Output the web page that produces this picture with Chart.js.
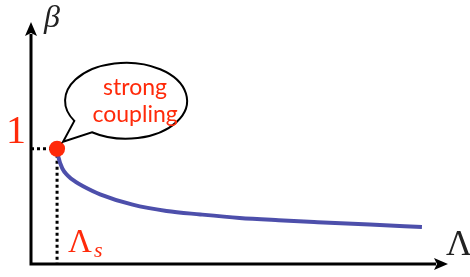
<!DOCTYPE html>
<html>
<head>
<meta charset="utf-8">
<script src="https://cdn.jsdelivr.net/npm/chart.js@4/dist/chart.umd.min.js"></script>
<style>
  html, body { margin: 0; padding: 0; background: #fff; }
  canvas { display: block; }
</style>
</head>
<body>
<canvas id="myChart" width="470" height="277"></canvas>
<script>
// curve beta(Lambda)
var lambdaVals = [1, 1.05, 1.2, 1.4, 1.7, 2, 2.65, 3.9, 5.2, 6.5, 8, 9.5, 11, 13, 15];
var betaVals = [1, 0.93, 0.83, 0.77, 0.715, 0.675, 0.605, 0.515, 0.46, 0.43, 0.4, 0.38, 0.363, 0.342, 0.322];
// the strong coupling point
var lambdaS = 1;
var betaS = 1;
// axis ranges
var xRange = [0, 16];
var yRange = [0, 2.1];
// texts
var bubbleLines = ['strong', 'coupling'];
var yAxisLabel = 'β';
var xAxisLabel = 'Λ';
var betaSLabel = '1';

var RED = '#ff2a0a';
var BLUE = '#4d4fab';

function arrowHead(ctx, tipX, tipY, dir) {
  ctx.beginPath();
  if (dir === 'up') {
    ctx.moveTo(tipX, tipY);
    ctx.lineTo(tipX - 6, tipY + 14);
    ctx.lineTo(tipX, tipY + 11);
    ctx.lineTo(tipX + 6, tipY + 14);
  } else {
    ctx.moveTo(tipX, tipY);
    ctx.lineTo(tipX - 14, tipY - 6);
    ctx.lineTo(tipX - 11, tipY);
    ctx.lineTo(tipX - 14, tipY + 6);
  }
  ctx.closePath();
  ctx.fill();
}

var decorations = {
  id: 'decorations',
  beforeDatasetsDraw: function (chart) {
    var ctx = chart.ctx;
    var xs = chart.scales.x, ys = chart.scales.y;
    var x0 = xs.getPixelForValue(xRange[0]);
    var x1 = xs.getPixelForValue(xRange[1]);
    var y0 = ys.getPixelForValue(yRange[0]);
    var y1 = ys.getPixelForValue(yRange[1]);
    var px = xs.getPixelForValue(lambdaS);
    var py = ys.getPixelForValue(betaS);
    ctx.save();
    // dotted guides
    ctx.strokeStyle = '#000';
    ctx.lineWidth = 3;
    ctx.setLineDash([3, 3]);
    ctx.beginPath();
    ctx.moveTo(x0, py);
    ctx.lineTo(px, py);
    ctx.moveTo(px, py);
    ctx.lineTo(px, y0);
    ctx.stroke();
    ctx.setLineDash([]);
    // axes
    ctx.lineWidth = 3;
    ctx.beginPath();
    ctx.moveTo(x0, y0 + 1.5);
    ctx.lineTo(x0, y1 + 12);
    ctx.moveTo(x0 - 1.5, y0);
    ctx.lineTo(x1 - 12, y0);
    ctx.stroke();
    ctx.fillStyle = '#000';
    arrowHead(ctx, x0, y1, 'up');
    arrowHead(ctx, x1, y0, 'right');
    ctx.restore();
  },
  afterDatasetsDraw: function (chart) {
    var ctx = chart.ctx;
    var xs = chart.scales.x, ys = chart.scales.y;
    var x0 = xs.getPixelForValue(xRange[0]);
    var x1 = xs.getPixelForValue(xRange[1]);
    var y0 = ys.getPixelForValue(yRange[0]);
    var px = xs.getPixelForValue(lambdaS);
    var py = ys.getPixelForValue(betaS);
    ctx.save();
    // speech bubble
    var cx = px + 69, cy = py - 48, rx = 61, ry = 38;
    var tA = 148 * Math.PI / 180, tB = 124 * Math.PI / 180;
    ctx.beginPath();
    ctx.moveTo(cx + rx * Math.cos(tA), cy + ry * Math.sin(tA));
    ctx.lineTo(px + 6, py - 7);
    ctx.lineTo(cx + rx * Math.cos(tB), cy + ry * Math.sin(tB));
    ctx.ellipse(cx, cy, rx, ry, 0, tB, tA, true);
    ctx.closePath();
    ctx.fillStyle = '#fff';
    ctx.fill();
    ctx.strokeStyle = '#000';
    ctx.lineWidth = 2;
    ctx.lineJoin = 'miter';
    ctx.stroke();
    ctx.fillStyle = RED;
    ctx.font = '23px Lato';
    ctx.textAlign = 'center';
    ctx.textBaseline = 'alphabetic';
    ctx.fillText(bubbleLines[0], cx + 9, cy - 6);
    ctx.fillText(bubbleLines[1], cx + 9, cy + 21);

    // the "1" on the beta axis
    ctx.font = '40px "Liberation Serif"';
    ctx.textAlign = 'right';
    ctx.fillText(betaSLabel, x0 - 5, py - 6);

    // Lambda_s
    ctx.textAlign = 'left';
    ctx.font = '33px "Liberation Serif"';
    ctx.fillText('Λ', px + 11, y0 - 12);
    var w = ctx.measureText('Λ').width;
    ctx.font = 'italic 22px "Liberation Serif"';
    ctx.fillText('s', px + 13 + w, y0 - 7);

    // axis names
    ctx.fillStyle = '#222';
    ctx.font = 'italic 32px "Liberation Serif"';
    ctx.fillText(yAxisLabel, x0 + 13, 27);
    ctx.font = '36px "Liberation Serif"';
    ctx.fillText(xAxisLabel, x1 - 2, y0 - 9);
    ctx.restore();
  }
};

var ctx = document.getElementById('myChart').getContext('2d');
var curve = lambdaVals.map(function (l, i) { return { x: l, y: betaVals[i] }; });

var myChart = new Chart(ctx, {
  type: 'scatter',
  data: {
    datasets: [
      {
        data: [{ x: lambdaS, y: betaS }],
        pointRadius: 8,
        pointHoverRadius: 8,
        pointBackgroundColor: RED,
        pointBorderWidth: 0,
        showLine: false,
        clip: false
      },
      {
        data: curve,
        showLine: true,
        borderColor: BLUE,
        borderWidth: 4,
        pointRadius: 0,
        cubicInterpolationMode: 'monotone',
        fill: false
      }
    ]
  },
  options: {
    responsive: false,
    animation: false,
    events: [],
    layout: { padding: { left: 31, right: 22, top: 22, bottom: 13 } },
    plugins: {
      legend: { display: false },
      tooltip: { enabled: false }
    },
    scales: {
      x: { type: 'linear', min: xRange[0], max: xRange[1], display: false },
      y: { type: 'linear', min: yRange[0], max: yRange[1], display: false }
    }
  },
  plugins: [decorations]
});
</script>
</body>
</html>
